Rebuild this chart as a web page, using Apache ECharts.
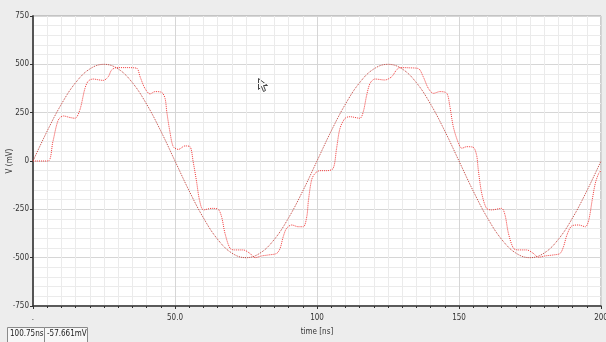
<!DOCTYPE html>
<html>
<head>
<meta charset="utf-8">
<script src="https://cdn.jsdelivr.net/npm/echarts@6/dist/echarts.min.js"></script>
<style>
  html, body { margin: 0; padding: 0; background: #ededed; }
  #chart { width: 606px; height: 342px; }
</style>
</head>
<body>
<div id="chart"></div>
<script>
// time axis ticks (ns) and voltage ticks (mV)
const xTicks = [0, 50, 100, 150, 200];
const xTickLabels = ['.', '50.0', '100', '150', '200'];
const yTicks = [-750, -500, -250, 0, 250, 500, 750];

// input sine, read every 5 ns
const sineTimes = [0, 5, 10, 15, 20, 25, 30, 35, 40, 45, 50, 55, 60, 65, 70, 75, 80, 85, 90, 95,
    100, 105, 110, 115, 120, 125, 130, 135, 140, 145, 150, 155, 160, 165, 170, 175, 180, 185, 190, 195, 200];
const sineValues = [0, 155, 294, 405, 476, 500, 476, 405, 294, 155, 0, -155, -294, -405, -476, -500, -476, -405, -294, -155,
    0, 155, 294, 405, 476, 500, 476, 405, 294, 155, 0, -155, -294, -405, -476, -500, -476, -405, -294, -155, 0];

// stepped output, traced point by point
const stepTimes = [0, 5.3, 7, 8.9, 10.7, 13, 14.8, 16.5, 18.3, 19.5, 21.2, 23, 24.8, 26.5, 27.7, 29.5, 33, 36.5,
    37.7, 39.4, 41.2, 43, 45.3, 46.5, 47.1, 48.2, 49.4, 51.2, 53.5, 55.3, 56.4, 57.6, 58.6, 60, 62.9, 65.2,
    66.4, 67.6, 69.4, 71.1, 74, 76.4, 78.2, 80.5, 82.9, 85.8, 87, 88.1, 89.3, 91.1, 93.4, 95.2, 96.4, 97,
    98.1, 99.3, 101, 103.5, 105.7, 106.9, 108.1, 109.9, 111.6, 115.1, 116.3, 117.5, 118.7, 120.4, 123.9,
    126.3, 128, 129.2, 132.5, 135.7, 137.4, 139.2, 141, 143.3, 145.7, 146.8, 148, 149.8, 151, 152.7, 155,
    156.2, 156.8, 158, 159.7, 161.5, 165, 166.2, 167.4, 169.2, 170.9, 173.8, 176.2, 177.9, 180.3, 183.2,
    185.6, 186.8, 188, 189.7, 192.1, 194.5, 195.7, 196.9, 198, 199.2, 200];
const stepValues = [0, 0, 100, 212, 233, 225, 221, 264, 376, 414, 424, 420, 417, 436, 471, 483, 483, 480,
    436, 376, 347, 359, 355, 324, 255, 152, 74, 60, 78, 74, -4, -107, -200, -253, -245, -250,
    -288, -374, -452, -460, -460, -478, -500, -491, -486, -478, -452, -392, -348, -331, -340, -340, -288, -202,
    -98, -64, -50, -50, -38, 66, 169, 221, 229, 221, 255, 341, 402, 424, 419,
    436, 471, 483, 482, 478, 436, 376, 350, 359, 350, 281, 177, 92, 66, 74, 71,
    30, -47, -167, -245, -253, -245, -279, -374, -452, -460, -460, -478, -498, -491, -486,
    -478, -443, -383, -336, -331, -340, -305, -202, -115, -64, -50];

// status read-out boxes
const readoutTime = '100.75ns';
const readoutValue = '-57.661mV';

const labelFont = 'DejaVu Sans Condensed, Liberation Sans Narrow, sans-serif';

const chart = echarts.init(document.getElementById('chart'), null, { renderer: 'canvas' });

const option = {
    backgroundColor: '#ededed',
    animation: false,
    grid: {
        left: 33, right: 5, top: 16, bottom: 36,
        outerBoundsMode: 'none',
        containLabel: false,
        show: true,
        backgroundColor: '#ffffff',
        borderColor: '#9a9a9a',
        borderWidth: 1
    },
    xAxis: {
        type: 'value',
        min: xTicks[0],
        max: xTicks[xTicks.length - 1],
        interval: 50,
        name: 'time [ns]',
        nameLocation: 'middle',
        nameGap: 22,
        nameMoveOverlap: false,
        nameTextStyle: { fontFamily: labelFont, fontSize: 8, color: '#333' },
        axisLine: { onZero: false, lineStyle: { color: '#333', width: 1.5 } },
        axisTick: { show: true, length: 3, lineStyle: { color: '#333' } },
        minorTick: { show: true, splitNumber: 10, length: 2, lineStyle: { color: '#333' } },
        axisLabel: {
            fontFamily: labelFont, fontSize: 8, color: '#333', margin: 8,
            formatter: (v) => xTickLabels[xTicks.indexOf(v)] ?? ''
        },
        splitLine: { show: true, lineStyle: { color: '#d6d6d6', width: 1 } },
        minorSplitLine: { show: true, lineStyle: { color: '#ebebeb', width: 1 } }
    },
    yAxis: {
        type: 'value',
        min: yTicks[0],
        max: yTicks[yTicks.length - 1],
        interval: 250,
        name: 'V (mV)',
        nameLocation: 'middle',
        nameGap: 19,
        nameRotate: 90,
        nameMoveOverlap: false,
        nameTextStyle: { fontFamily: labelFont, fontSize: 8, color: '#333' },
        axisLine: { show: true, onZero: false, lineStyle: { color: '#555', width: 2 } },
        axisTick: { show: true, length: 3, lineStyle: { color: '#333' } },
        minorTick: { show: false, splitNumber: 5 },
        axisLabel: { fontFamily: labelFont, fontSize: 8, color: '#333', margin: 4 },
        splitLine: { show: true, lineStyle: { color: '#d6d6d6', width: 1 } },
        minorSplitLine: { show: true, lineStyle: { color: '#ebebeb', width: 1 } }
    },
    series: [
        {
            name: 'input',
            type: 'line',
            showSymbol: false,
            smooth: 0.4,
            lineStyle: { color: '#c2423c', width: 1, type: [1, 1] },
            data: sineTimes.map((t, i) => [t, sineValues[i]])
        },
        {
            name: 'output',
            type: 'line',
            showSymbol: false,
            smooth: 0.3,
            lineStyle: { color: '#f23a3a', width: 1, type: [1, 1] },
            data: stepTimes.map((t, i) => [t, stepValues[i]])
        }
    ],
    graphic: [
        {
            type: 'rect', left: 7, top: 327,
            shape: { width: 37, height: 15 },
            style: { fill: '#f7f7f7', stroke: '#8a8a8a', lineWidth: 1 }
        },
        {
            type: 'text', left: 10, top: 330,
            style: { text: readoutTime, fontFamily: labelFont, fontSize: 8, fill: '#222' }
        },
        {
            type: 'rect', left: 44, top: 327,
            shape: { width: 43, height: 15 },
            style: { fill: '#f7f7f7', stroke: '#8a8a8a', lineWidth: 1 }
        },
        {
            type: 'text', left: 47, top: 330,
            style: { text: readoutValue, fontFamily: labelFont, fontSize: 8, fill: '#222' }
        },
        {
            // mouse pointer left in the screenshot
            type: 'polygon', left: 258, top: 78,
            shape: { points: [[0, 0], [0, 11], [3, 8], [5, 13], [7, 12], [5, 7], [9, 7]] },
            style: { fill: '#ffffff', stroke: '#444', lineWidth: 1 }
        }
    ]
};

chart.setOption(option);
window.addEventListener('resize', chart.resize);
</script>
</body>
</html>
